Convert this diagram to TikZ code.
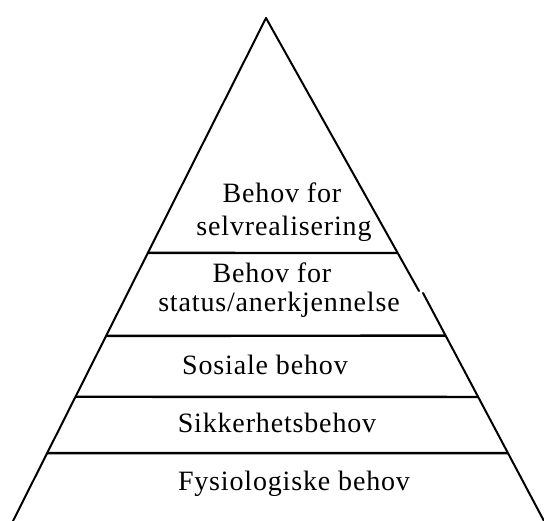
\documentclass[tikz,border=0pt]{standalone}
\usepackage{fontspec}
\setmainfont{Liberation Serif}[LetterSpace=3]
\usetikzlibrary{calc}
\tikzset{
  edge/.style={line width=2pt, line cap=round, line join=round},
  tier/.style={line width=2.4pt},
  lbl/.style={anchor=base, inner sep=0pt, font=\fontsize{28}{31}\selectfont}
}
\begin{document}
\begin{tikzpicture}[x=1pt,y=-1pt]
\useasboundingbox (0,0) rectangle (544,521);
\coordinate (apex) at (266,18);
\coordinate (bl) at (13,521);
\coordinate (rbreakA) at (419,291);
\coordinate (rbreakB) at (423,293);
\coordinate (br) at (544,521);
% edges
\draw[edge] (apex) -- (bl);
\draw[edge] (apex) -- (rbreakA);
\draw[edge] (rbreakB) -- (br);
% tiers
\draw[tier] ($(apex)!0.467!(bl)$) -- ($(apex)!0.861!(rbreakA)$);
\draw[tier] ($(apex)!0.632!(bl)$) -- ($(rbreakB)!0.187!(br)$);
\draw[tier] ($(apex)!0.753!(bl)$) -- ($(rbreakB)!0.456!(br)$);
\draw[tier] ($(apex)!0.865!(bl)$) -- ($(rbreakB)!0.702!(br)$);
% labels
\node[lbl] (t1a) at (282,203) {Behov for};
\node[lbl] (t1b) at (284,236) {selvrealisering};
\node[lbl] (t2a) at (272,283) {Behov for};
\node[lbl] (t2b) at (279,312) {status/anerkjennelse};
\node[lbl] (t3) at (265,375) {Sosiale behov};
\node[lbl] (t4) at (277,433) {Sikkerhetsbehov};
\node[lbl] (t5) at (294,490) {Fysiologiske behov};
\end{tikzpicture}
\end{document}
